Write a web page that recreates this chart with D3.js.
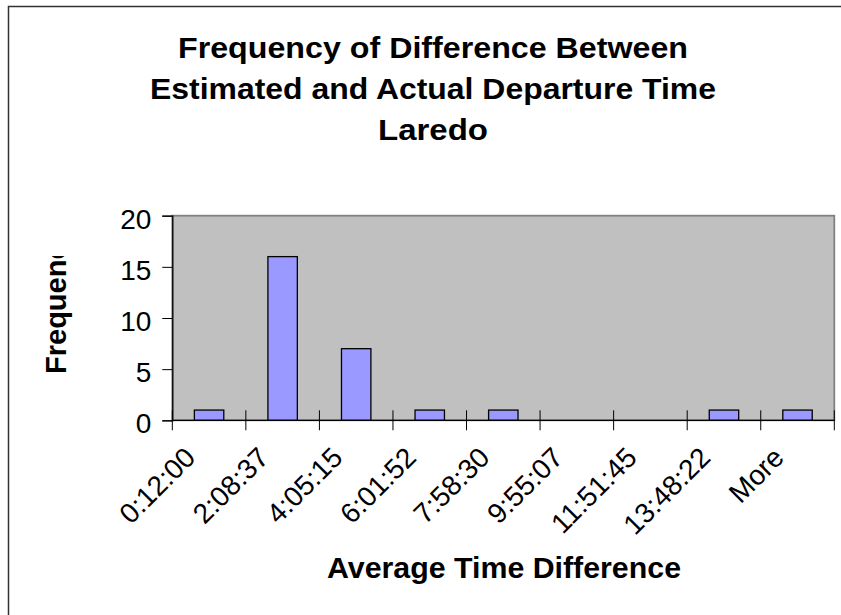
<!DOCTYPE html>
<html>
<head>
<meta charset="utf-8">
<script src="https://cdn.jsdelivr.net/npm/d3@7"></script>
<style>
  html, body { margin: 0; padding: 0; background: #fff; overflow: hidden; }
  svg { display: block; font-family: "Liberation Sans", Arial, sans-serif; }
</style>
</head>
<body>
<svg id="chart" width="841" height="615"></svg>
<script>
// Histogram bins (upper bound of each time-difference bin) and their counts
const categories = ["0:12:00", "2:08:37", "4:05:15", "6:01:52", "7:58:30", "9:55:07", "11:51:45", "13:48:22", "More"];
const frequency = [1, 16, 7, 1, 1, 0, 0, 1, 1];
const yTicks = [0, 5, 10, 15, 20];
const titleLines = ["Frequency of Difference Between", "Estimated and Actual Departure Time", "Laredo"];
const titleWidths = [510, 566, 110];

const svg = d3.select("#chart");
const FONT = "Liberation Sans, Arial, sans-serif";

// chart-area frame (runs past the right and bottom edges)
svg.append("rect")
  .attr("x", 8.5).attr("y", 6.5)
  .attr("width", 2000).attr("height", 2000)
  .attr("fill", "#fff").attr("stroke", "#333").attr("stroke-width", 1.5);

const plot = { left: 172.3, right: 834.3, top: 215.7, bottom: 420.3 };

const x = d3.scaleBand()
  .domain(categories)
  .range([plot.left, plot.right]);

const y = d3.scaleLinear()
  .domain([0, 20])
  .range([plot.bottom, plot.top]);

// plot area
svg.append("rect")
  .attr("x", plot.left).attr("y", plot.top)
  .attr("width", plot.right - plot.left).attr("height", plot.bottom - plot.top)
  .attr("fill", "#c0c0c0").attr("stroke", "#808080").attr("stroke-width", 1.8);

// bars (gap width 150% of bar width)
const barW = x.bandwidth() / 2.5;
svg.append("g").selectAll("rect")
  .data(categories.map((c, i) => ({ c, v: frequency[i] })))
  .join("rect")
  .attr("x", d => x(d.c) + (x.bandwidth() - barW) / 2)
  .attr("width", barW)
  .attr("y", d => y(d.v))
  .attr("height", d => y(0) - y(d.v))
  .attr("fill", "#9999ff")
  .attr("stroke", "#000")
  .attr("stroke-width", 1.3);

// value axis
const yAxis = svg.append("g")
  .attr("transform", `translate(${plot.left},0)`)
  .call(d3.axisLeft(y).tickValues(yTicks).tickSize(10).tickPadding(11));
yAxis.select(".domain").attr("stroke", "#000").attr("stroke-width", 1.3);
yAxis.selectAll(".tick line").attr("stroke", "#000").attr("stroke-width", 1);
yAxis.selectAll(".tick text")
  .attr("font-size", 28).attr("fill", "#000")
  .attr("dy", "0.45em")
  .attr("font-family", FONT);

// category axis: tick marks cross the axis at bin boundaries
const bounds = categories.map(c => x(c)).concat([plot.right]);
svg.append("g").selectAll("line")
  .data(bounds)
  .join("line")
  .attr("x1", d => d).attr("x2", d => d)
  .attr("y1", plot.bottom - 10).attr("y2", plot.bottom + 10)
  .attr("stroke", "#000").attr("stroke-width", 1);
svg.append("line")
  .attr("x1", plot.left).attr("x2", plot.right)
  .attr("y1", plot.bottom).attr("y2", plot.bottom)
  .attr("stroke", "#000").attr("stroke-width", 1.3);

// rotated category labels
svg.append("g").selectAll("text")
  .data(categories)
  .join("text")
  .attr("transform", d => `translate(${x(d) + x.bandwidth() / 2 - 12},${plot.bottom + 39}) rotate(-45)`)
  .attr("text-anchor", "end")
  .attr("font-size", 28)
  .text(d => d);

// title
svg.append("g").selectAll("text")
  .data(titleLines)
  .join("text")
  .attr("x", 433)
  .attr("y", (d, i) => 58 + i * 41)
  .attr("text-anchor", "middle")
  .attr("font-size", 29)
  .attr("font-weight", "bold")
  .attr("textLength", (d, i) => titleWidths[i])
  .attr("lengthAdjust", "spacingAndGlyphs")
  .text(d => d);

// axis titles
svg.append("text")
  .attr("x", 504).attr("y", 578)
  .attr("text-anchor", "middle")
  .attr("font-size", 29)
  .attr("font-weight", "bold")
  .attr("textLength", 354)
  .attr("lengthAdjust", "spacingAndGlyphs")
  .text("Average Time Difference");

svg.append("clipPath").attr("id", "yTitleClip")
  .append("rect").attr("x", 0).attr("y", 256).attr("width", 160).attr("height", 300);
svg.append("g")
  .attr("clip-path", "url(#yTitleClip)")
  .append("text")
  .attr("transform", "translate(66,374) rotate(-90)")
  .attr("text-anchor", "start")
  .attr("font-size", 29)
  .attr("font-weight", "bold")
  .text("Frequency");
</script>
</body>
</html>
